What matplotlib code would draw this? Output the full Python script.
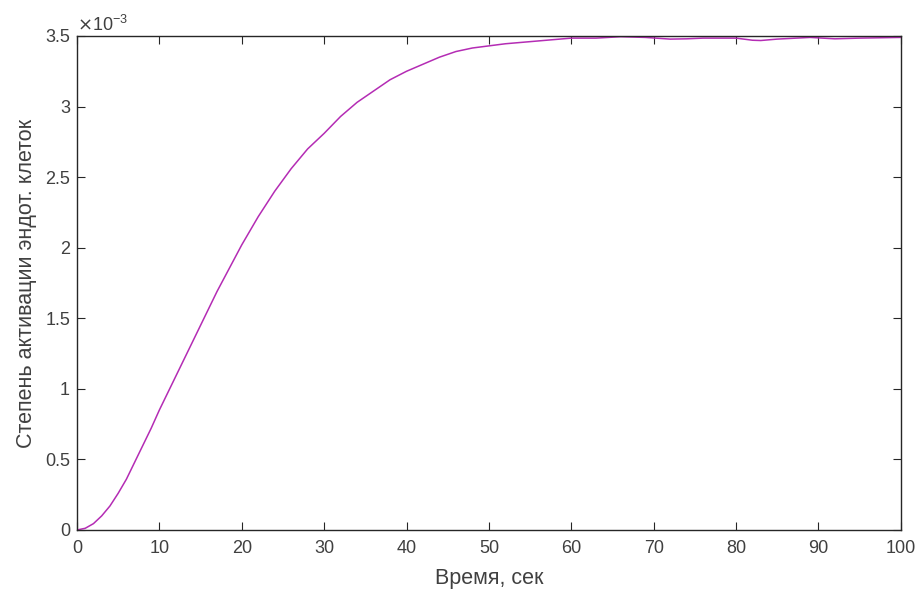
import numpy as np
import matplotlib.pyplot as plt
from matplotlib.ticker import FuncFormatter, MultipleLocator

plt.rcParams['font.family'] = ['Liberation Sans', 'DejaVu Sans']
plt.rcParams['axes.unicode_minus'] = False

# time, s
time_s = [0, 1, 2, 3, 4, 5, 6, 7, 8, 9, 10, 11, 12, 13, 14, 15, 16, 17, 18, 19, 20,
          22, 24, 26, 28, 30, 32, 34, 36, 38, 40, 42, 44, 46, 48, 50, 52, 54, 56, 58,
          60, 63, 66, 69, 72, 74, 76, 80, 82, 83, 85, 89, 92, 95, 100]
# activation, x1e-3
activation_e3 = [0, 0.012, 0.045, 0.10, 0.17, 0.26, 0.36, 0.48, 0.60, 0.72, 0.85,
                 0.97, 1.09, 1.21, 1.33, 1.45, 1.57, 1.69, 1.80, 1.91, 2.02,
                 2.22, 2.40, 2.56, 2.70, 2.81, 2.93, 3.03, 3.11, 3.19, 3.25,
                 3.30, 3.35, 3.39, 3.415, 3.43, 3.445, 3.455, 3.465, 3.475,
                 3.485, 3.485, 3.495, 3.49, 3.478, 3.48, 3.485, 3.485, 3.47, 3.468,
                 3.478, 3.49, 3.48, 3.485, 3.49]

x = np.array(time_s)
y = np.array(activation_e3) * 1e-3

fig = plt.figure(figsize=(9.22, 6.0), dpi=100)
ax = fig.add_axes([0.0835, 0.1167, 0.8935, 0.8233])
ax.plot(x, y, color='#b42cb4', linewidth=1.1)

ax.set_xlim(0, 100)
ax.set_ylim(0, 3.5e-3)
ax.xaxis.set_major_locator(MultipleLocator(10))
ax.yaxis.set_major_locator(MultipleLocator(0.5e-3))
ax.yaxis.set_major_formatter(FuncFormatter(lambda v, p: '%g' % round(v * 1e3, 6)))

axis_col = '#262626'
for s in ax.spines.values():
    s.set_color(axis_col)
    s.set_linewidth(1.0)
ax.tick_params(direction='in', top=True, right=True, length=6, width=0.8,
               colors=axis_col, labelcolor='#404040', labelsize=13)
ax.tick_params(axis='y', pad=5)
ax.tick_params(axis='x', pad=7)

ax.text(0.0, 1.003, r'$\times$10$^{\mathregular{-3}}$', transform=ax.transAxes,
        fontsize=13, color='#404040', ha='left', va='bottom')

ax.set_xlabel('Время, сек', fontsize=15.5, color='#404040', labelpad=8)
ax.set_ylabel('Степень активации эндот. клеток', fontsize=15.5, color='#404040', labelpad=6)

fig.savefig('out.png', dpi=100)
